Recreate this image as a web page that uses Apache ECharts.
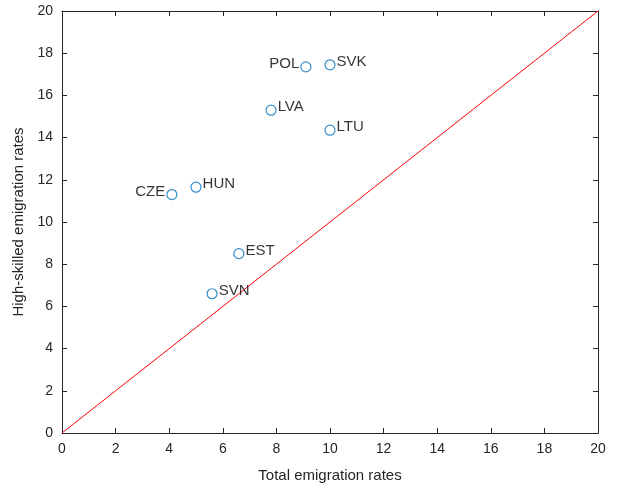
<!DOCTYPE html>
<html>
<head>
<meta charset="utf-8">
<script src="https://cdn.jsdelivr.net/npm/echarts@6/dist/echarts.min.js"></script>
<style>
  html, body { margin: 0; padding: 0; background: #fff; }
  #chart { width: 621px; height: 489px; }
</style>
</head>
<body>
<div id="chart"></div>
<script>
// Country codes and their emigration rates (percent)
const countries = ['POL', 'SVK', 'LVA', 'LTU', 'CZE', 'HUN', 'EST', 'SVN'];
const totalRates = [9.1, 10.0, 7.8, 10.0, 4.1, 5.0, 6.6, 5.6];
const highSkilledRates = [17.35, 17.45, 15.3, 14.35, 11.3, 11.65, 8.5, 6.6];
const labelLeft = ['POL', 'CZE'];
const axisTicks = [0, 2, 4, 6, 8, 10, 12, 14, 16, 18, 20];
const diagonal = [[0, 0], [20, 20]];

const font = 'Liberation Sans, Arial, Helvetica, sans-serif';
const axisColor = '#262626';

const points = countries.map((c, i) => ({
  value: [totalRates[i], highSkilledRates[i]],
  name: c,
  label: { position: labelLeft.includes(c) ? 'left' : 'right' }
}));

const baseAxis = {
  min: axisTicks[0],
  max: axisTicks[axisTicks.length - 1],
  interval: axisTicks[1] - axisTicks[0],
  splitLine: { show: false },
  axisLine: { show: true, onZero: false, lineStyle: { color: axisColor, width: 1 } },
  axisTick: { show: true, inside: true, length: 5, lineStyle: { color: axisColor } },
};

const chart = echarts.init(document.getElementById('chart'), null, { renderer: 'canvas' });
chart.setOption({
  animation: false,
  grid: { left: 62, right: 23, top: 11, bottom: 56 },
  xAxis: [
    Object.assign({}, baseAxis, {
      type: 'value', position: 'bottom',
      name: 'Total emigration rates', nameLocation: 'middle', nameGap: 35,
      nameTextStyle: { fontFamily: font, fontSize: 15, color: axisColor },
      axisLabel: { fontFamily: font, fontSize: 14, color: axisColor, margin: 9 }
    }),
    Object.assign({}, baseAxis, {
      type: 'value', position: 'top', axisLabel: { show: false }
    })
  ],
  yAxis: [
    Object.assign({}, baseAxis, {
      type: 'value', position: 'left',
      name: 'High-skilled emigration rates', nameLocation: 'middle', nameGap: 35,
      nameTextStyle: { fontFamily: font, fontSize: 15, color: axisColor },
      axisLabel: { fontFamily: font, fontSize: 14, color: axisColor, margin: 9 }
    }),
    Object.assign({}, baseAxis, {
      type: 'value', position: 'right', axisLabel: { show: false }
    })
  ],
  series: [
    {
      type: 'line',
      data: diagonal,
      symbol: 'none',
      lineStyle: { color: '#ff0000', width: 1 },
      silent: true,
      z: 1
    },
    {
      type: 'scatter',
      data: points,
      symbol: 'circle',
      symbolSize: 10,
      itemStyle: { color: '#ffffff', borderColor: '#0072BD', borderWidth: 1.2 },
      label: {
        show: true,
        formatter: p => p.name,
        fontFamily: font,
        fontSize: 15,
        color: '#000000',
        distance: 1,
        offset: [0, -3]
      },
      z: 3
    }
  ]
});
</script>
</body>
</html>
